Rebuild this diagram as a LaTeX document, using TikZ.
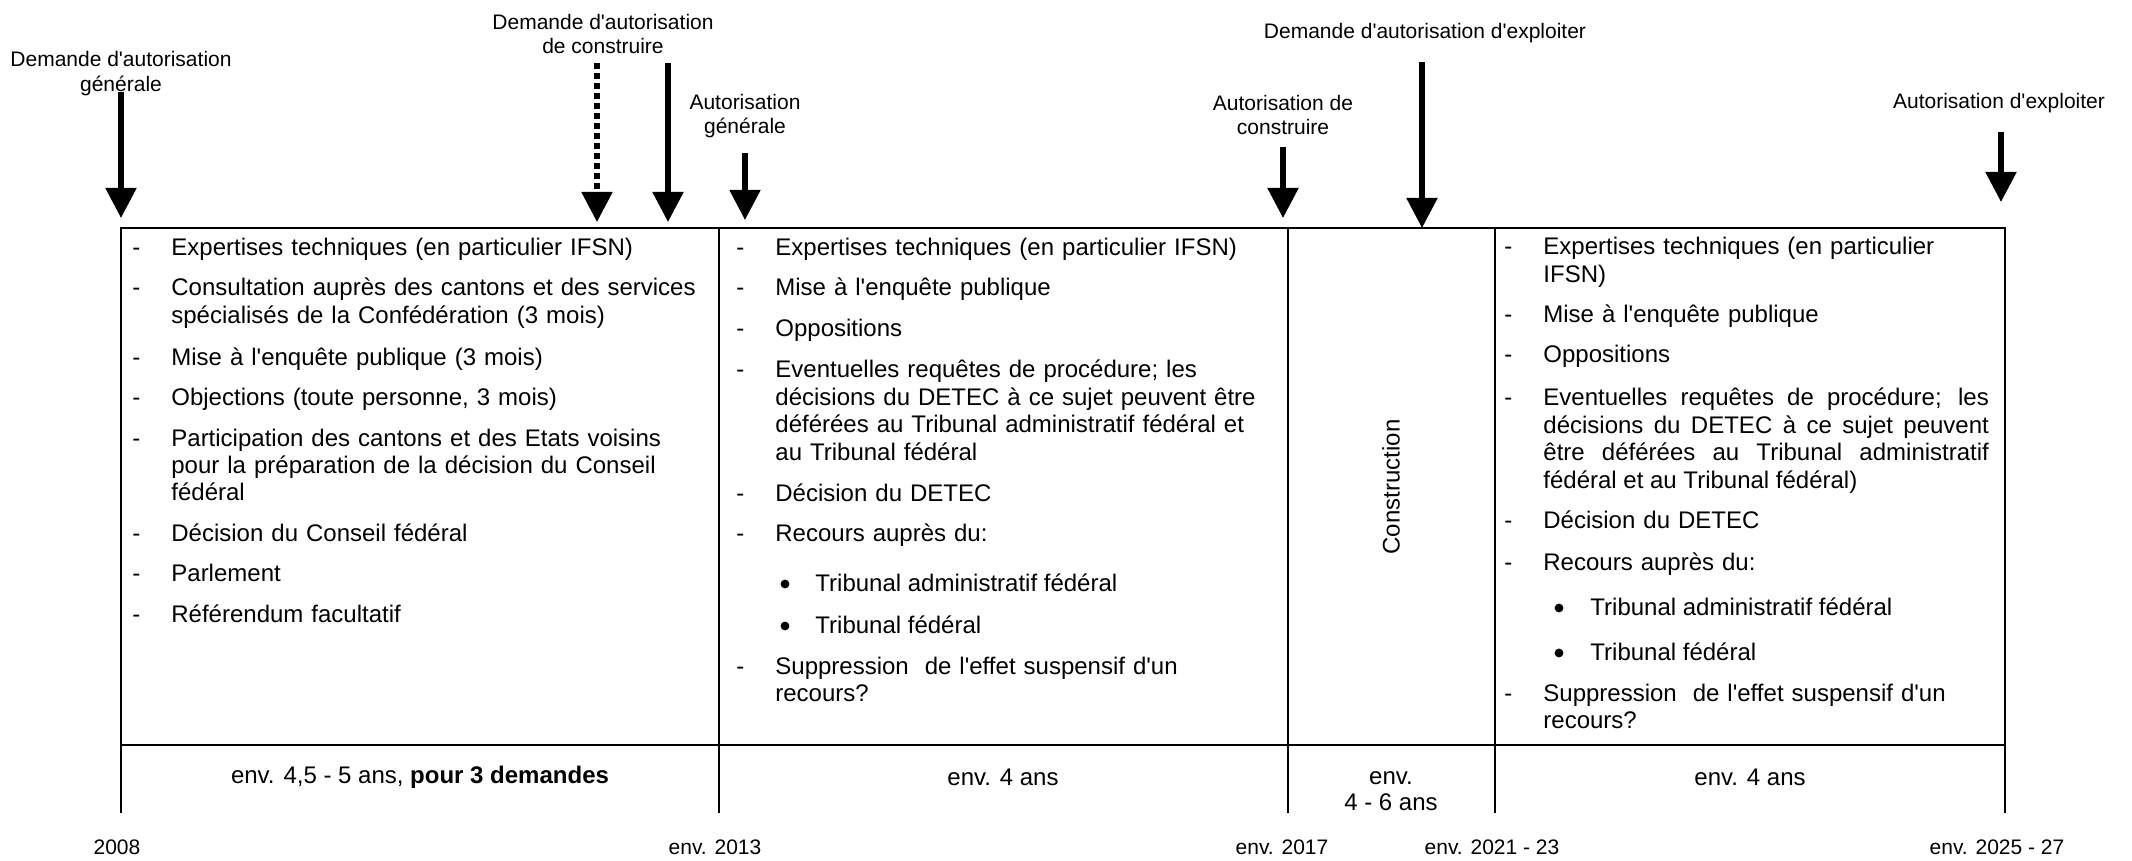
\documentclass[tikz,border=0pt]{standalone}
\usepackage{fontspec}
\setmainfont{Liberation Sans}[Ligatures=TeXOff]
\usetikzlibrary{arrows.meta}
\begin{document}
\begin{tikzpicture}[x=0.5pt,y=-0.5pt]
\tikzset{
  lbl/.style={font=\fontsize{10.5pt}{12.25pt}\selectfont, align=center, inner sep=0pt},
  txt/.style={font=\fontsize{12pt}{13.2pt}\selectfont, align=center, inner sep=0pt},
  item/.style={font=\fontsize{12pt}{13.7pt}\selectfont, inner sep=0pt, anchor=base west, align=left},
  dashn/.style={font=\fontsize{12pt}{13.7pt}\selectfont, inner sep=0pt, anchor=base west},
  colA/.style={item, text width=270pt},
  colB/.style={item, text width=245pt},
  colD/.style={item, text width=222.75pt},
  bul/.style={circle, fill=black, inner sep=0pt, minimum size=4.4pt},
  arr/.style={line width=2.6pt, -{Triangle[width=15pt,length=15pt]}},
  darr/.style={arr, dash pattern=on 3pt off 2pt},
  tbl/.style={line width=1.1pt},
}
\useasboundingbox (0,0) rectangle (2132,861);

% ---- top labels
\node[lbl] (l1) at (121,73.5) {Demande d'autorisation\\générale};
\node[lbl] (l2) at (603,34) {Demande d'autorisation\\de construire};
\node[lbl] (l3) at (745,116) {Autorisation\\générale};
\node[lbl] (l4) at (1283,115) {Autorisation de\\construire};
\node[lbl] (l5) at (1425,33) {Demande d'autorisation d'exploiter};
\node[lbl] (l6) at (1999,103) {Autorisation d'exploiter};

% ---- arrows
\coordinate (a1s) at (121,92);   \coordinate (a1e) at (121,218);
\coordinate (a2s) at (597,63);   \coordinate (a2e) at (597,222);
\coordinate (a3s) at (668,63);   \coordinate (a3e) at (668,222);
\coordinate (a4s) at (745,153);  \coordinate (a4e) at (745,220);
\coordinate (a5s) at (1283,147); \coordinate (a5e) at (1283,218);
\coordinate (a6s) at (1422,62);  \coordinate (a6e) at (1422,228);
\coordinate (a7s) at (2001,132); \coordinate (a7e) at (2001,202);
\draw[arr] (a1s) -- (a1e);
\draw[darr] (a2s) -- (a2e);
\draw[arr] (a3s) -- (a3e);
\draw[arr] (a4s) -- (a4e);
\draw[arr] (a5s) -- (a5e);
\draw[arr] (a6s) -- (a6e);
\draw[arr] (a7s) -- (a7e);

% ---- table
\draw[tbl] (121,813) -- (121,228) -- (2005,228) -- (2005,813);
\draw[tbl] (719,228) -- (719,813);
\draw[tbl] (1288,228) -- (1288,813);
\draw[tbl] (1495,228) -- (1495,813);
\draw[tbl] (121,745) -- (2005,745);

% ---- column 1 (dash at 132, text at 171)
\foreach \y [count=\i] in {256,296,365,405,446,541,581,622}
  \node[dashn] (h1-\i) at (132,\y) {-};
\node[colA] (e1a) at (171,256) {Expertises techniques (en particulier IFSN)};
\node[colA] (e1b) at (171,296) {Consultation auprès des cantons et des services\\spécialisés de la Confédération (3 mois)};
\node[colA] (e1c) at (171,365) {Mise à l'enquête publique (3 mois)};
\node[colA] (e1d) at (171,405) {Objections (toute personne, 3 mois)};
\node[colA] (e1e) at (171,446) {Participation des cantons et des Etats voisins\\pour la préparation de la décision du Conseil\\fédéral};
\node[colA] (e1f) at (171,541) {Décision du Conseil fédéral};
\node[colA] (e1g) at (171,581) {Parlement};
\node[colA] (e1h) at (171,622) {Référendum facultatif};

% ---- column 2 (dash at 736, text at 775)
\foreach \y [count=\i] in {256,296,336,378,501,541,674}
  \node[dashn] (h2-\i) at (736,\y) {-};
\node[colB] (e2a) at (775,256) {Expertises techniques (en particulier IFSN)};
\node[colB] (e2b) at (775,296) {Mise à l'enquête publique};
\node[colB] (e2c) at (775,336) {Oppositions};
\node[colB] (e2d) at (775,378) {Eventuelles requêtes de procédure; les\\décisions du DETEC à ce sujet peuvent être\\déférées au Tribunal administratif fédéral et\\au Tribunal fédéral};
\node[colB] (e2e) at (775,501) {Décision du DETEC};
\node[colB] (e2f) at (775,541) {Recours auprès du:};
\node[bul] (b2a) at (785,584) {};
\node[item] (t2a) at (815,591) {Tribunal administratif fédéral};
\node[bul] (b2b) at (785,626) {};
\node[item] (t2b) at (815,633) {Tribunal fédéral};
\node[colB] (e2g) at (775,674) {Suppression\ \ de l'effet suspensif d'un\\recours?};

% ---- column 3
\node[txt, rotate=90] (c3) at (1391,487) {Construction};

% ---- column 4 (dash at 1504, text at 1543)
\foreach \y [count=\i] in {255,323,363,406,528,570,701}
  \node[dashn] (h4-\i) at (1504,\y) {-};
\node[colD] (e4a) at (1543,255) {Expertises techniques (en particulier\\IFSN)};
\node[colD] (e4b) at (1543,323) {Mise à l'enquête publique};
\node[colD] (e4c) at (1543,363) {Oppositions};
\node[colD, align=justify] (e4d) at (1543,406) {Eventuelles requêtes de procédure; les\linebreak décisions du DETEC à ce sujet peuvent\linebreak être déférées au Tribunal administratif\linebreak fédéral et au Tribunal fédéral)};
\node[colD] (e4e) at (1543,528) {Décision du DETEC};
\node[colD] (e4f) at (1543,570) {Recours auprès du:};
\node[bul] (b4a) at (1559,608) {};
\node[item] (t4a) at (1590,615) {Tribunal administratif fédéral};
\node[bul] (b4b) at (1559,653) {};
\node[item] (t4b) at (1590,660) {Tribunal fédéral};
\node[colD] (e4g) at (1543,701) {Suppression\ \ de l'effet suspensif d'un\\recours?};

% ---- durations
\node[txt] (d1) at (420,777) {env. 4,5 - 5 ans, \textbf{pour 3 demandes}};
\node[txt] (d2) at (1003,777) {env. 4 ans};
\node[txt] (d3) at (1391,791) {env.\\4 - 6 ans};
\node[txt] (d4) at (1750,777) {env. 4 ans};

% ---- years
\node[lbl] (y1) at (117,847) {2008};
\node[lbl] (y2) at (715,847) {env. 2013};
\node[lbl] (y3) at (1282,847) {env. 2017};
\node[lbl] (y4) at (1492,847) {env. 2021 - 23};
\node[lbl] (y5) at (1997,847) {env. 2025 - 27};
\end{tikzpicture}
\end{document}
